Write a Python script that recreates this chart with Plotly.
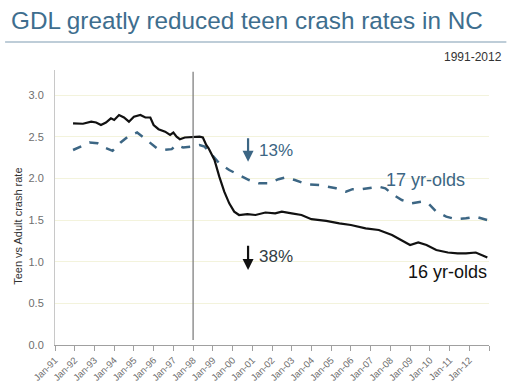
import plotly.graph_objects as go

# 16 yr-olds (solid black)
dates16 = ["1991-12-01","1992-06-01","1992-11-01","1993-02-01","1993-05-01","1993-08-01","1993-11-01",
           "1994-01-01","1994-04-01","1994-07-01","1994-10-01","1995-01-01","1995-05-01","1995-08-01",
           "1995-11-01","1996-01-01","1996-04-01","1996-08-01","1996-11-01","1997-01-01","1997-03-01",
           "1997-05-01","1997-08-01","1998-01-01","1998-05-01","1998-07-01","1998-09-01","1998-10-15",
           "1999-02-01","1999-05-01","1999-08-01","1999-11-01","2000-02-01","2000-05-01","2000-10-01",
           "2001-03-01","2001-09-01","2002-03-01","2002-07-01","2003-01-01","2003-07-01","2004-01-01",
           "2004-10-01","2005-06-01","2006-01-01","2006-10-01","2007-06-01","2008-02-01","2008-06-01",
           "2009-01-01","2009-06-01","2009-11-01","2010-05-01","2010-12-01","2011-06-01","2011-11-01",
           "2012-05-01","2012-12-01"]
rate16 = [2.66,2.655,2.68,2.67,2.64,2.67,2.72,
          2.70,2.76,2.73,2.68,2.74,2.76,2.73,
          2.73,2.64,2.59,2.56,2.52,2.55,2.50,
          2.47,2.49,2.50,2.50,2.49,2.40,2.36,
          2.22,2.02,1.84,1.70,1.60,1.56,1.57,
          1.56,1.59,1.58,1.60,1.58,1.56,1.51,
          1.49,1.46,1.44,1.40,1.38,1.32,1.28,
          1.20,1.23,1.20,1.14,1.11,1.10,1.10,
          1.11,1.05]

# 17 yr-olds (dashed blue)
dates17 = ["1991-12-01","1992-06-01","1992-10-01","1993-03-01","1993-07-01","1993-12-01","1994-05-01",
           "1994-10-01","1995-03-01","1995-07-01","1995-11-01","1996-03-01","1996-07-01","1996-12-01",
           "1997-03-01","1997-07-01","1997-12-01","1998-05-01","1998-08-01","1998-10-01","1999-01-01",
           "1999-05-01","1999-11-01","2000-05-01","2000-11-01","2001-05-01","2001-11-01","2002-05-01",
           "2002-09-01","2003-03-01","2003-10-01","2004-06-01","2004-12-01","2005-04-01","2005-10-01",
           "2006-02-01","2006-08-01","2006-12-01","2007-06-01","2007-10-01","2008-03-01","2008-08-01",
           "2009-02-01","2009-08-01","2009-12-01","2010-05-01","2010-11-01","2011-05-01","2011-11-01",
           "2012-05-01","2012-12-01"]
rate17 = [2.34,2.40,2.43,2.42,2.37,2.33,2.43,
          2.51,2.55,2.49,2.43,2.36,2.34,2.35,
          2.40,2.37,2.38,2.40,2.38,2.34,2.27,
          2.18,2.10,2.04,1.98,1.94,1.94,1.99,
          2.01,1.98,1.93,1.92,1.90,1.88,1.84,
          1.87,1.87,1.88,1.90,1.88,1.80,1.74,
          1.70,1.72,1.70,1.60,1.54,1.51,1.52,
          1.54,1.50]

yticks = [0, 0.5, 1.0, 1.5, 2.0, 2.5, 3.0]
ytick_labels = ["0.0", "0.5", "1.0", "1.5", "2.0", "2.5", "3.0"]

xtick_dates = ["1991-01-01","1992-01-01","1993-01-01","1994-01-01","1995-01-01","1996-01-01","1997-01-01",
               "1998-01-01","1999-01-01","2000-01-01","2001-01-01","2002-01-01","2003-01-01","2004-01-01",
               "2005-01-01","2006-01-01","2007-01-01","2008-01-01","2009-01-01","2010-01-01","2011-01-01",
               "2012-01-01","2013-01-01"]
xtick_labels = ["Jan-91","Jan-92","Jan-93","Jan-94","Jan-95","Jan-96","Jan-97","Jan-98","Jan-99","Jan-00",
                "Jan-01","Jan-02","Jan-03","Jan-04","Jan-05","Jan-06","Jan-07","Jan-08","Jan-09","Jan-10",
                "Jan-11","Jan-12",""]

BLUE = "#3c6684"
TITLE_BLUE = "#3e6e8e"
GRAY = "#6e6e6e"
FONT = "Liberation Sans"

fig = go.Figure()
fig.add_trace(go.Scatter(x=dates17, y=rate17, mode="lines",
                         line=dict(color=BLUE, width=2.5, dash="dash"), name="17 yr-olds"))
fig.add_trace(go.Scatter(x=dates16, y=rate16, mode="lines",
                         line=dict(color="#111111", width=2.2), name="16 yr-olds"))

# GDL vertical line
fig.add_shape(type="line", xref="x", yref="y", x0="1998-01-01", x1="1998-01-01", y0=0.06, y1=3.28,
              line=dict(color="#808080", width=1.3))
# title underline
yl = (345 - 42) / 275
fig.add_shape(type="line", xref="paper", yref="paper", x0=-0.115, x1=1.04, y0=yl, y1=yl,
              line=dict(color="#a9bccb", width=1.5))

fig.add_annotation(x="1998-01-01", y=3.41, xref="x", yref="y", text="<b>GDL</b>", showarrow=False,
                   font=dict(size=11, color="#222222", family=FONT))
# arrows
fig.add_annotation(x="2000-10-15", y=2.20, ax="2000-10-15", ay=2.50, xref="x", yref="y", axref="x", ayref="y",
                   text="", showarrow=True, arrowhead=2, arrowsize=1, arrowwidth=2.2, arrowcolor=BLUE)
fig.add_annotation(x="2000-10-15", y=0.90, ax="2000-10-15", ay=1.21, xref="x", yref="y", axref="x", ayref="y",
                   text="", showarrow=True, arrowhead=2, arrowsize=1, arrowwidth=2.2, arrowcolor="#111111")
fig.add_annotation(x="2001-04-01", y=2.34, xref="x", yref="y", text="13%", showarrow=False, xanchor="left",
                   font=dict(size=17, color=BLUE, family=FONT))
fig.add_annotation(x="2001-04-01", y=1.06, xref="x", yref="y", text="38%", showarrow=False, xanchor="left",
                   font=dict(size=17, color="#333d45", family=FONT))
fig.add_annotation(x="2007-09-01", y=1.98, xref="x", yref="y", text="17 yr-olds", showarrow=False, xanchor="left",
                   font=dict(size=18, color=BLUE, family=FONT))
fig.add_annotation(x="2008-10-15", y=0.88, xref="x", yref="y", text="16 yr-olds", showarrow=False, xanchor="left",
                   font=dict(size=18, color="#111111", family=FONT))
fig.add_annotation(x=1.035, y=1.0, xref="paper", yref="paper", text="1991-2012", showarrow=False,
                   xanchor="right", yanchor="middle", yshift=13,
                   font=dict(size=12, color="#333333", family=FONT))
fig.add_annotation(text="GDL greatly reduced teen crash rates in NC", xref="paper", yref="paper",
                   x=-0.105, y=1.0, yshift=50, xanchor="left", yanchor="middle", showarrow=False,
                   font=dict(size=24.3, color=TITLE_BLUE, family=FONT))
fig.add_annotation(text="Teen vs Adult crash rate", xref="paper", yref="paper", x=-0.085, y=0.43,
                   textangle=-90, showarrow=False, xanchor="center", yanchor="middle",
                   font=dict(size=11, color="#333333", family=FONT))

fig.update_layout(
    width=512, height=385,
    margin=dict(l=55, r=23, t=70, b=40, autoexpand=False),
    paper_bgcolor="white", plot_bgcolor="white",
    showlegend=False,
    font=dict(family=FONT),
    xaxis=dict(type="date", range=["1991-01-01", "2013-01-01"], tickmode="array",
               tickvals=xtick_dates, ticktext=xtick_labels, tickangle=-45, showgrid=False,
               showline=True, linecolor="#a0a0a0", ticks="outside", ticklen=5, tickcolor="#a0a0a0",
               tickfont=dict(size=9.5, color=GRAY, family=FONT), zeroline=False),
    yaxis=dict(range=[0, 3.3], tickvals=yticks, ticktext=ytick_labels, showgrid=True,
               gridcolor="#f3f3dc", gridwidth=1, showline=True, linecolor="#c8c8c8",
               ticks="", ticklabelstandoff=8, tickfont=dict(size=11, color=GRAY, family=FONT),
               zeroline=False),
)
fig.write_html("out.html", config={"displayModeBar": False},
               post_script="document.body.style.margin='0px';document.body.style.overflow='hidden';")
